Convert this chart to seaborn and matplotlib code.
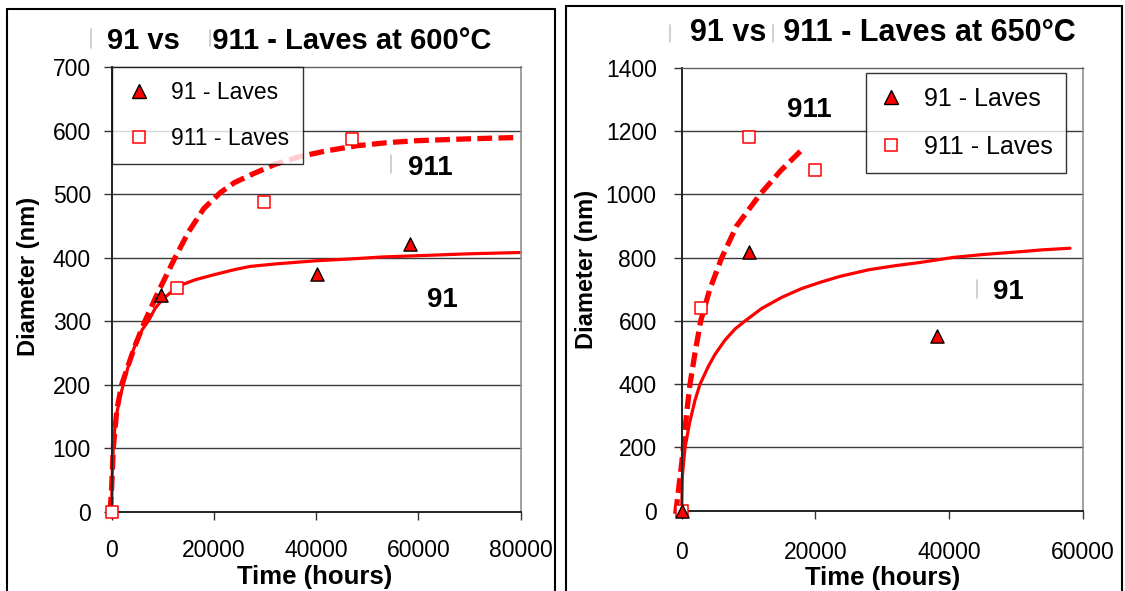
import numpy as np
import seaborn as sns
import matplotlib.pyplot as plt
import pandas as pd
from matplotlib.lines import Line2D

sns.set_style("white")
plt.rcParams['font.family'] = ['Liberation Sans', 'DejaVu Sans']
plt.rcParams['text.color'] = 'black'
plt.rcParams['axes.labelcolor'] = 'black'
plt.rcParams['xtick.color'] = 'black'
plt.rcParams['ytick.color'] = 'black'

# --- 600 C panel ---
p91_600_t = [9600, 40100, 58300]
p91_600_d = [341, 374, 421]
p911_600_t = [0, 12700, 29800, 47100]
p911_600_d = [0, 352, 487, 586]
# fitted curves
fit91_600_t = [0, 50, 150, 310, 600, 1000, 1600, 2270, 3000, 4000, 5000, 6000, 7160,
               8500, 10000, 12000, 14000, 16280, 20000, 24000, 27000, 32000, 40000,
               47000, 53000, 60000, 70000, 80000]
fit91_600_d = [0, 40, 70, 100, 130, 155, 180, 200, 222, 250, 270, 287, 300,
               320, 335, 348, 358, 365, 373, 381, 386, 390, 395,
               398, 401, 403, 406, 408]
fit911_600_t = [-300, 0, 310, 1000, 1950, 3000, 4500, 6500, 9100, 12400, 15000, 18000,
                21200, 24000, 27700, 32000, 36800, 42000, 47900, 54000, 59650, 70000, 79200]
fit911_600_d = [0, 40, 100, 160, 200, 225, 260, 300, 346, 400, 440, 477,
                502, 518, 532, 547, 559, 568, 576, 581, 584, 587, 589]

# --- 650 C panel ---
p91_650_t = [0, 10000, 38200]
p91_650_d = [0, 818, 551]
p911_650_t = [0, 2840, 10100, 19900]
p911_650_d = [0, 641, 1183, 1078]
fit91_650_t = [0, 100, 500, 1200, 2000, 2740, 4000, 5000, 6500, 8000, 9470, 12000,
               15000, 18000, 20690, 23680, 28000, 32000, 35650, 40640, 45000, 50000,
               54000, 58100]
fit91_650_d = [0, 110, 200, 280, 350, 400, 457, 495, 540, 575, 600, 640,
               675, 703, 722, 741, 762, 775, 785, 801, 810, 818,
               825, 830]
fit911_650_t = [-900, -400, 0, 240, 700, 1240, 2000, 2840, 4200, 5990, 8200, 11710,
                14800, 18200]
fit911_650_d = [-10, 80, 150, 200, 300, 400, 500, 600, 700, 800, 900, 1000,
                1075, 1146]

fig = plt.figure(figsize=(11.25, 5.91), dpi=100)
W, H = 1125, 591

def px_axes(x0, x1, y_top, y_bot):
    return fig.add_axes([x0 / W, 1 - y_bot / H, (x1 - x0) / W, (y_bot - y_top) / H])

ax1 = px_axes(111.7, 520.7, 67, 511.7)
ax2 = px_axes(681.7, 1082.7, 68, 510.7)

panels = [
    (ax1, p91_600_t, p91_600_d, p911_600_t, p911_600_d, fit91_600_t, fit91_600_d,
     fit911_600_t, fit911_600_d, 80000, 700, 100, 9, 14),
    (ax2, p91_650_t, p91_650_d, p911_650_t, p911_650_d, fit91_650_t, fit91_650_d,
     fit911_650_t, fit911_650_d, 60000, 1400, 200, 12, 16),
]

for (ax, t91, d91, t911, d911, ft91, fd91, ft911, fd911, xmax, ymax, ystep, ypad, xpad) in panels:
    for y in np.arange(ystep, ymax, ystep):
        ax.axhline(y, color="#3a3a3a", lw=1.0, zorder=0)
    sns.lineplot(x=ft91, y=fd91, ax=ax, color="red", lw=2.3, sort=False)
    sns.lineplot(x=ft911, y=fd911, ax=ax, color="red", lw=3.8, sort=False)
    ax.lines[-1].set_dashes([2.8, 1.2])
    for ln in ax.lines:
        ln.set_clip_on(False)
    sns.scatterplot(x=t911, y=d911, ax=ax, marker="s", s=75, color="white",
                    edgecolor="red", linewidth=1.1, zorder=5, clip_on=False)
    sns.scatterplot(x=t91, y=d91, ax=ax, marker="^", s=90, color="red",
                    edgecolor="black", linewidth=1.0, zorder=6, clip_on=False)
    ax.set_xlim(0, xmax)
    ax.set_ylim(0, ymax)
    ax.set_xticks(np.arange(0, xmax + 1, 20000))
    ax.set_yticks(np.arange(0, ymax + 1, ystep))
    ax.tick_params(direction="out", length=6, width=1, color="#333333",
                   labelsize=16.5, left=True, bottom=True)
    ax.tick_params(axis="y", pad=ypad)
    ax.tick_params(axis="x", pad=xpad)
    ax.set_xlabel("Time (hours)", fontsize=18.5, fontweight="bold")
    ax.set_ylabel("Diameter (nm)", fontsize=17, fontweight="bold")
    for s in ["left", "bottom"]:
        ax.spines[s].set_color("#222222")
        ax.spines[s].set_linewidth(1.4)
    ax.spines["top"].set_color("#606060")
    ax.spines["right"].set_color("#909090")
    ax.spines["top"].set_linewidth(1.0)
    ax.spines["right"].set_linewidth(1.2)

ax1.xaxis.set_label_coords(0.497, -0.119)
ax1.yaxis.set_label_coords(-0.175, 0.528)
ax2.xaxis.set_label_coords(0.502, -0.126)
ax2.yaxis.set_label_coords(-0.209, 0.545)

handles = [
    Line2D([], [], ls="none", marker="^", ms=10, mfc="red", mec="black", mew=1.0),
    Line2D([], [], ls="none", marker="s", ms=9, mfc="white", mec="red", mew=1.1),
]
leg1 = ax1.legend(handles, ["91 - Laves", "911 - Laves"], loc="upper left",
                  bbox_to_anchor=(0.0, 1.0), borderaxespad=0, fontsize=16.5,
                  frameon=True, fancybox=False, edgecolor="black",
                  handlelength=1.18, handletextpad=0.81, labelspacing=1.01,
                  borderpad=0.6)
leg1.get_frame().set_linewidth(1.0)
leg2 = ax2.legend(handles, ["91 - Laves", "911 - Laves"], loc="upper left",
                  bbox_to_anchor=(0.46, 0.989), borderaxespad=0, fontsize=18,
                  frameon=True, fancybox=False, edgecolor="black",
                  handlelength=0.88, handletextpad=0.88, labelspacing=0.97,
                  borderpad=0.55)
leg2.get_frame().set_linewidth(1.0)

ax1.text(57960, 530, "911", fontsize=20, fontweight="bold", ha="left", va="baseline")
ax1.text(61600, 323, "91", fontsize=20, fontweight="bold", ha="left", va="baseline")
ax2.text(15760, 1245, "911", fontsize=20, fontweight="bold", ha="left", va="baseline")
ax2.text(46580, 668, "91", fontsize=20, fontweight="bold", ha="left", va="baseline")

fig.text(107 / W, 1 - 49 / H, "91 vs    911 - Laves at 600°C", fontsize=21,
         fontweight="bold", ha="left", va="baseline")
fig.text(690 / W, 1 - 41 / H, "91 vs  911 - Laves at 650°C", fontsize=22,
         fontweight="bold", ha="left", va="baseline")

# faint placeholder bars from the original rendering
bars = [(91, 29, 48), (209.5, 30, 46), (670, 25, 41.5), (772.5, 25, 41.5),
        (391, 155, 173), (977, 280, 298)]
for bx, y0, y1 in bars:
    fig.add_artist(Line2D([bx / W, bx / W], [1 - y0 / H, 1 - y1 / H],
                          color="#c8c8c8", lw=1.2))

# panel frames
for xs, ytop in [((7, 555), 9), ((566, 1122), 6)]:
    y = 1 - ytop / H
    fig.add_artist(Line2D([xs[0] / W, xs[0] / W], [0, y], color="black", lw=1.5))
    fig.add_artist(Line2D([xs[1] / W, xs[1] / W], [0, y], color="black", lw=1.5))
    fig.add_artist(Line2D([xs[0] / W, xs[1] / W], [y, y], color="black", lw=1.5))

fig.savefig("out.png", dpi=100)
